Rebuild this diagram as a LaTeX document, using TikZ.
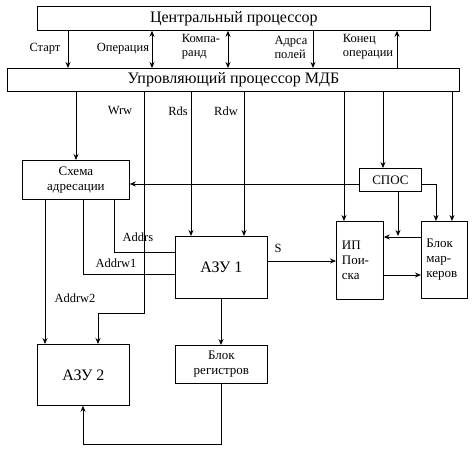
\documentclass[tikz,border=0pt]{standalone}
\usepackage{fontspec}
\setmainfont{Liberation Serif}
\usetikzlibrary{calc,arrows.meta}

\tikzset{
  blk/.style={draw,thick,anchor=north west,inner sep=2pt,align=center},
  big/.style={font=\rmfamily\fontsize{16}{18}\selectfont},
  mid/.style={font=\rmfamily\fontsize{13}{15}\selectfont},
  lbl/.style={font=\rmfamily\fontsize{12.5}{14}\selectfont,align=left,inner sep=0pt}
}

\begin{document}
\begin{tikzpicture}[>={Stealth[length=6pt,width=5pt]},x=1pt,y=-1pt,line width=0.8pt]
        % --- 1. Page frame ---
        \useasboundingbox (0,0) rectangle (474,449);

        % --- 2. Blocks ---
        \node[blk,big,minimum width=393,minimum height=24] (cpu) at (37,6) {Центральный процессор};
        \node[blk,big,minimum width=452,minimum height=23] (mdb) at (7,68) {Упровляющий процессор МДБ};
        \node[blk,mid,minimum width=107,minimum height=39] (adr) at (22,160) {Схема\\адресации};
        \node[blk,mid,minimum width=62,minimum height=23] (spos) at (359,168) {СПОС};
        \node[blk,big,minimum width=92,minimum height=62] (azu1) at (175,236) {АЗУ 1};
        \node[blk,mid,minimum width=47,minimum height=78,align=left,text width=36] (ip) at (336,221) {ИП\\Пои-\\ска};
        \node[blk,mid,minimum width=46,minimum height=77,align=left,text width=36] (mark) at (421,221) {Блок\\мар-\\керов};
        \node[blk,big,minimum width=92,minimum height=61] (azu2) at (37,344) {АЗУ 2};
        \node[blk,mid,minimum width=92,minimum height=38] (reg) at (175,345) {Блок\\регистров};

        % --- 3. CPU <-> control processor ---
        \draw[->] (cpu.south -| 68,0) -- (mdb.north -| 68,0);
        \draw[<->] (cpu.south -| 152,0) -- (mdb.north -| 152,0);
        \draw[<->] (cpu.south -| 228,0) -- (mdb.north -| 228,0);
        \draw[->] (cpu.south -| 313,0) -- (mdb.north -| 313,0);
        \draw[<-] (cpu.south -| 397,0) -- (mdb.north -| 397,0);

        \node[lbl] (lStart) at (45,49) {Старт};
        \node[lbl] (lOp) at (123,49) {Операция};
        \node[lbl] (lKomp) at (201,47) {Компа-\\ранд};
        \node[lbl] (lAdr) at (291,47) {Адрса\\полей};
        \node[lbl] (lEnd) at (368,47) {Конец\\операции};

        % --- 4. Control processor outputs ---
        \draw[->] (mdb.south -| 76,0) -- (adr.north -| 76,0);
        \draw[->] (mdb.south -| 144,0) -- (144,313) -- (98,313) -- (azu2.north -| 98,0);
        \draw[->] (mdb.south -| 191,0) -- (azu1.north -| 191,0);
        \draw[->] (mdb.south -| 244,0) -- (azu1.north -| 244,0);
        \draw[->] (mdb.south -| 344,0) -- (ip.north -| 344,0);
        \draw[->] (mdb.south -| 383,0) -- (spos.north -| 383,0);
        \draw[->] (mdb.south -| 452,0) -- (mark.north -| 452,0);

        \node[lbl] (lWrw) at (120,111) {Wrw};
        \node[lbl] (lRds) at (178,111) {Rds};
        \node[lbl] (lRdw) at (226,111) {Rdw};

        % --- 5. SPOS ---
        \draw[->] (spos.west |- 0,184) -- (adr.east |- 0,184);
        \draw[->] (spos.east |- 0,184) -| (436,0 |- mark.north);
        \draw[->] (spos.south -| 398,0) -- (398,236);
        \draw[->] (mark.west |- 0,237) -- (ip.east |- 0,237);

        % --- 6. Search and memory ---
        \draw[->] (azu1.east |- 0,261) -- (ip.west |- 0,261);
        \draw[->] (ip.east |- 0,275) -- (mark.west |- 0,275);
        \node[lbl] (lS) at (278,248) {S};

        \draw (adr.south -| 114,0) |- (azu1.west |- 0,252);
        \draw (adr.south -| 83,0) |- (azu1.west |- 0,274);
        \draw[->] (adr.south -| 45,0) -- (azu2.north -| 45,0);
        \node[lbl] (lAddrs) at (138,237) {Addrs};
        \node[lbl] (lAddrw1) at (116,263) {Addrw1};
        \node[lbl] (lAddrw2) at (75,298) {Addrw2};

        \draw[->] (azu1.south -| 221,0) -- (reg.north -| 221,0);
        \draw[->] (reg.south -| 221,0) -- (221,444) -- (83,444) -- (azu2.south -| 83,0);
    \end{tikzpicture}
\end{document}
